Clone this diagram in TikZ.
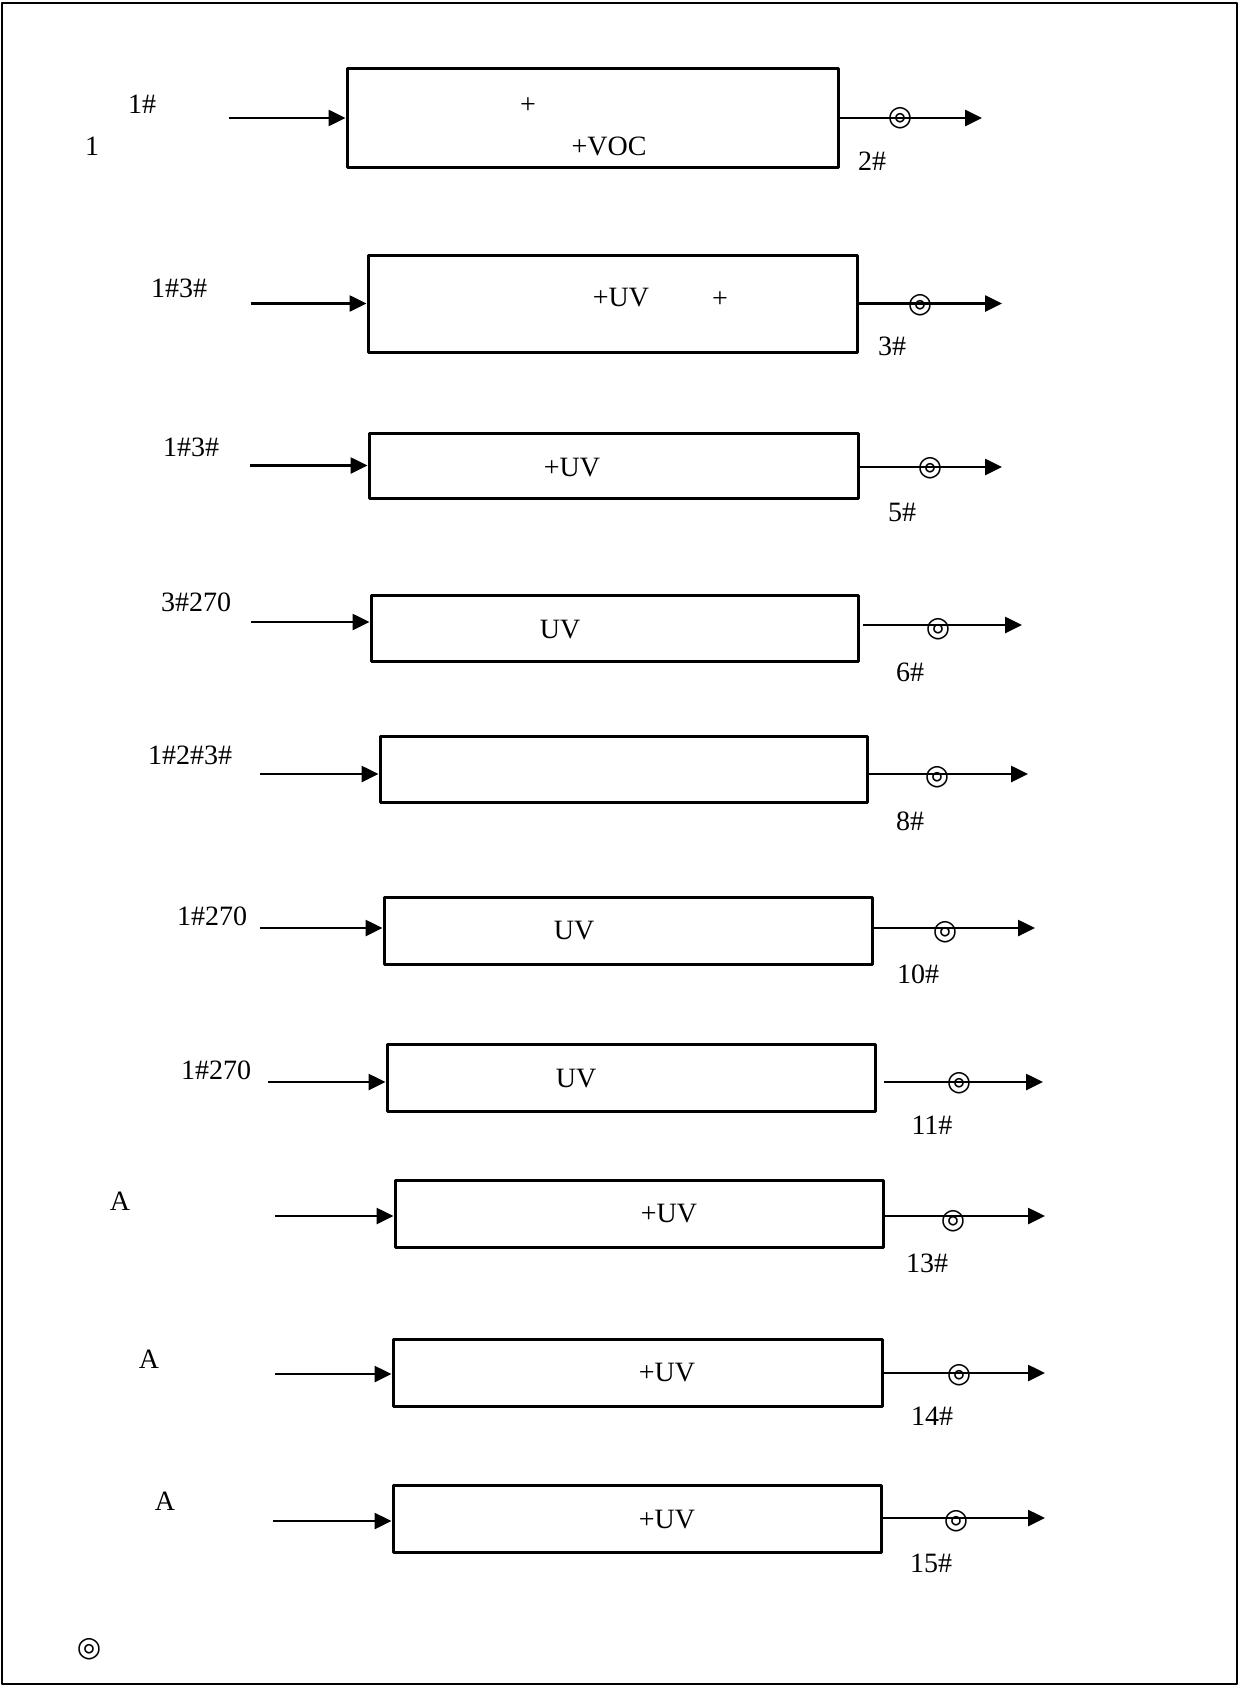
\documentclass[tikz,border=0pt]{standalone}
\usepackage{fontspec}
\setmainfont{Liberation Serif}
\newfontfamily\symfont{DejaVu Sans}
\usetikzlibrary{arrows.meta}
\tikzset{
  proc/.style={draw, line width=1.5pt, inner sep=0pt},
  flow/.style={line width=1.3pt, -{Triangle[length=8.5pt,width=8pt]}},
  dbl/.style={font=\symfont\fontsize{14}{14}\selectfont, inner sep=0pt},
  txt/.style={inner sep=0pt}
}
\begin{document}
\begin{tikzpicture}[x=0.5pt, y=-0.5pt, font=\fontsize{14}{16}\selectfont, line join=round]
	\useasboundingbox (0,0) rectangle (1240,1686);
	\draw[line width=1.2pt] (2,3) rectangle (1237,1684);
	% row 1
	\node[proc, minimum width=245.5pt, minimum height=49pt] (b1) at (592.5,118) {};
	\coordinate (i1) at (229,118); \coordinate (o1) at (982,118);
	\draw[flow] (i1) -- (b1.west);
	\draw[flow] (b1.east) -- (o1);
	\node[dbl] (m1) at (900,118) {◎};
	\node[txt] (l1a) at (142,104) {1\#};
	\node[txt] (l1b) at (92,146) {1};
	\node[txt] (t1a) at (528,106) {+};
	\node[txt] (t1b) at (609,146) {+VOC};
	\node[txt] (n1) at (872,161) {2\#};
	% row 2
	\node[proc, minimum width=244.5pt, minimum height=48.5pt] (b2) at (612.5,303.5) {};
	\coordinate (i2) at (251,303.5); \coordinate (o2) at (1002,303.5);
	\draw[flow] (i2) -- (b2.west);
	\draw[flow] (b2.east) -- (o2);
	\node[dbl] (m2) at (920,305) {◎};
	\node[txt] (l2) at (179,288) {1\#3\#};
	\node[txt] (t2a) at (621,298) {+UV};
	\node[txt] (t2b) at (720,300) {+};
	\node[txt] (n2) at (892,346) {3\#};
	% row 3
	\node[proc, minimum width=244.5pt, minimum height=32.5pt] (b3) at (613.5,465.5) {};
	\coordinate (i3) at (250,465.5); \coordinate (o3) at (1002,467);
	\draw[flow] (i3) -- (b3.west);
	\draw[flow] (b3.east |- o3) -- (o3);
	\node[dbl] (m3) at (930,468) {◎};
	\node[txt] (l3) at (191,447) {1\#3\#};
	\node[txt] (t3) at (572,468) {+UV};
	\node[txt] (n3) at (902,512) {5\#};
	% row 4
	\node[proc, minimum width=243.5pt, minimum height=33pt] (b4) at (614.5,628) {};
	\coordinate (i4) at (251,622); \coordinate (o4) at (1022,625);
	\draw[flow] (i4) -- (i4 -| b4.west);
	\draw[flow] ([xshift=1.5pt]b4.east |- o4) -- (o4);
	\node[dbl] (m4) at (938,629) {◎};
	\node[txt] (l4) at (196,602) {3\#270};
	\node[txt] (t4) at (560,630) {UV};
	\node[txt] (n4) at (910,672) {6\#};
	% row 5
	\node[proc, minimum width=243.5pt, minimum height=33pt] (b5) at (623.5,769) {};
	\coordinate (i5) at (260,774); \coordinate (o5) at (1028,774);
	\draw[flow] (i5) -- (i5 -| b5.west);
	\draw[flow] (b5.east |- o5) -- (o5);
	\node[dbl] (m5) at (937,777) {◎};
	\node[txt] (l5) at (190,755) {1\#2\#3\#};
	\node[txt] (n5) at (910,821) {8\#};
	% row 6
	\node[proc, minimum width=244pt, minimum height=33.5pt] (b6) at (628,930.5) {};
	\coordinate (i6) at (260,928); \coordinate (o6) at (1035,928);
	\draw[flow] (i6) -- (i6 -| b6.west);
	\draw[flow] (b6.east |- o6) -- (o6);
	\node[dbl] (m6) at (945,932) {◎};
	\node[txt] (l6) at (212,916) {1\#270};
	\node[txt] (t6) at (574,931) {UV};
	\node[txt] (n6) at (918,974) {10\#};
	% row 7
	\node[proc, minimum width=244pt, minimum height=33.5pt] (b7) at (631,1077.5) {};
	\coordinate (i7) at (268,1082); \coordinate (o7) at (1043,1082);
	\draw[flow] (i7) -- (i7 -| b7.west);
	\draw[flow] ([xshift=3.5pt]b7.east |- o7) -- (o7);
	\node[dbl] (m7) at (959,1083) {◎};
	\node[txt] (l7) at (216,1070) {1\#270};
	\node[txt] (t7) at (576,1079) {UV};
	\node[txt] (n7) at (932,1125) {11\#};
	% row 8
	\node[proc, minimum width=244pt, minimum height=33.5pt] (b8) at (639,1213.5) {};
	\coordinate (i8) at (275,1216); \coordinate (o8) at (1045,1216);
	\draw[flow] (i8) -- (i8 -| b8.west);
	\draw[flow] (b8.east |- o8) -- (o8);
	\node[dbl] (m8) at (953,1221) {◎};
	\node[txt] (l8) at (120,1201) {A};
	\node[txt] (t8) at (669,1214) {+UV};
	\node[txt] (n8) at (927,1263) {13\#};
	% row 9
	\node[proc, minimum width=244.5pt, minimum height=33.5pt] (b9) at (637.5,1372.5) {};
	\coordinate (i9) at (275,1374); \coordinate (o9) at (1045,1373);
	\draw[flow] (i9) -- (i9 -| b9.west);
	\draw[flow] (b9.east |- o9) -- (o9);
	\node[dbl] (m9) at (959,1375) {◎};
	\node[txt] (l9) at (149,1359) {A};
	\node[txt] (t9) at (667,1373) {+UV};
	\node[txt] (n9) at (932,1416) {14\#};
	% row 10
	\node[proc, minimum width=244pt, minimum height=33.5pt] (b10) at (637,1518.5) {};
	\coordinate (i10) at (273,1521); \coordinate (o10) at (1045,1518);
	\draw[flow] (i10) -- (i10 -| b10.west);
	\draw[flow] (b10.east |- o10) -- (o10);
	\node[dbl] (m10) at (956,1521) {◎};
	\node[txt] (l10) at (165,1501) {A};
	\node[txt] (t10) at (667,1520) {+UV};
	\node[txt] (n10) at (931,1563) {15\#};
	% key
	\node[dbl] (key) at (89,1649) {◎};
\end{tikzpicture}
\end{document}
